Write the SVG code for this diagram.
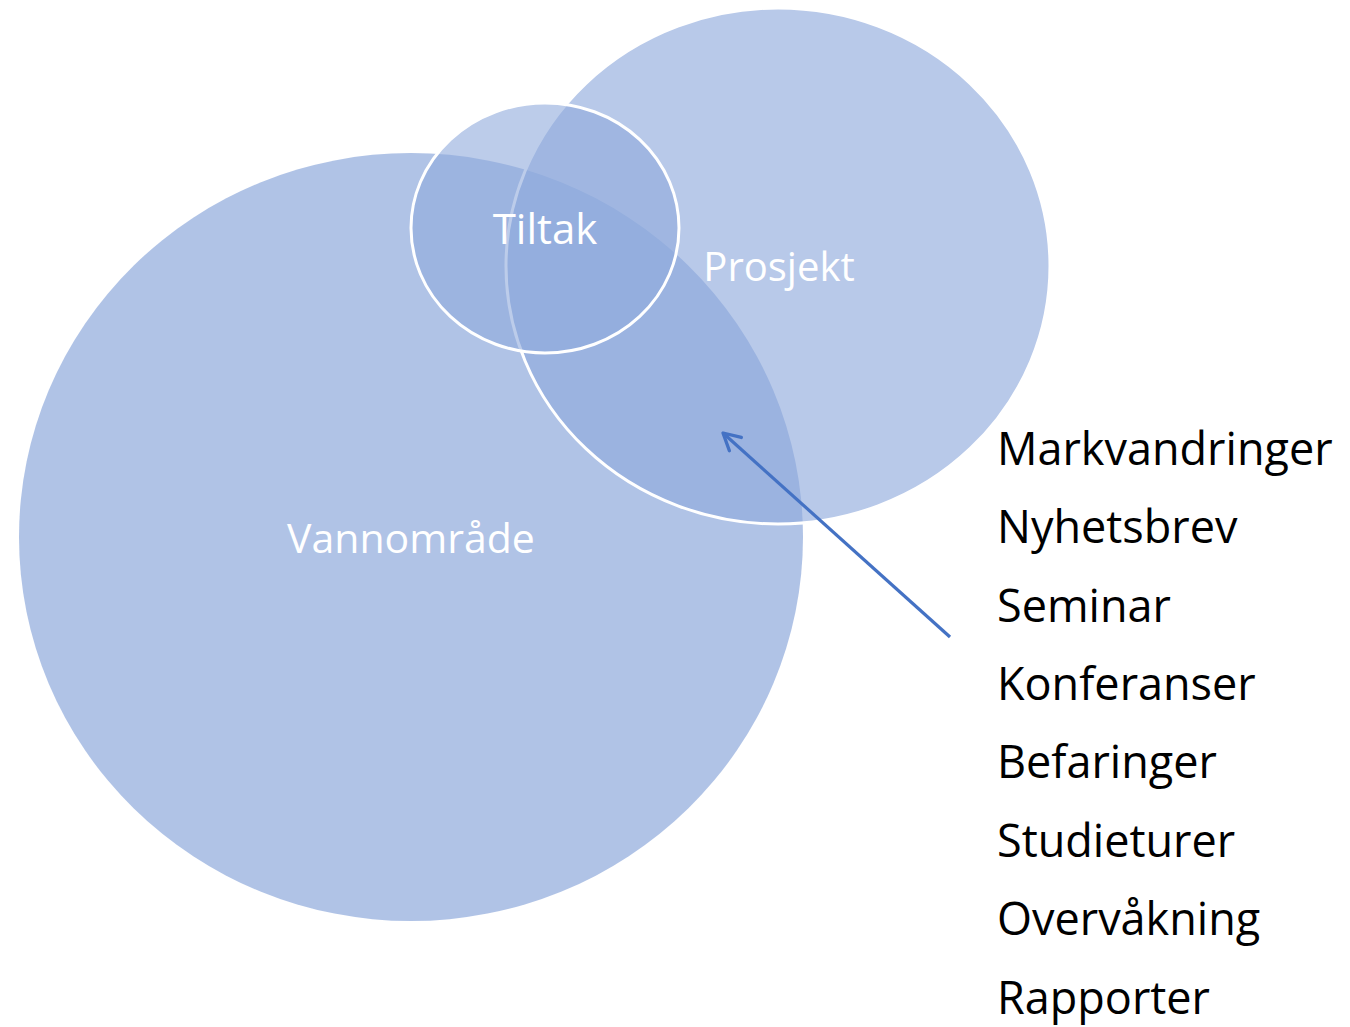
<svg xmlns="http://www.w3.org/2000/svg" width="1350" height="1027" viewBox="0 0 1350 1027">
<style>
.lbl{font-family:"Open Sans","Noto Sans","Liberation Sans",sans-serif;fill:#ffffff;text-anchor:middle}
.item{font-family:"Open Sans","Noto Sans","Liberation Sans",sans-serif;font-size:45px;fill:#000000}
</style>
<defs>
<marker id="ah" viewBox="0 0 20 20" refX="17" refY="10" markerWidth="8" markerHeight="8" markerUnits="strokeWidth" orient="auto">
<polyline points="4,3 17,10 4,17" fill="none" stroke="#4472c4" stroke-width="2.6" stroke-linecap="round" stroke-linejoin="round"/>
</marker>
</defs>
<g id="vannomrade">
<ellipse cx="411" cy="537" rx="392" ry="384" fill="#8faadc" fill-opacity="0.71"/>
<text class="lbl" x="411" y="553" font-size="41">Vannområde</text>
</g>
<g id="prosjekt">
<ellipse cx="778" cy="266" rx="272" ry="258" fill="#8faadc" fill-opacity="0.63" stroke="#ffffff" stroke-width="3"/>
<text class="lbl" x="779" y="281" font-size="40">Prosjekt</text>
</g>
<g id="tiltak">
<ellipse cx="545" cy="228" rx="134" ry="125" fill="#8faadc" fill-opacity="0.6" stroke="#ffffff" stroke-width="3"/>
<text class="lbl" x="545" y="244" font-size="42">Tiltak</text>
</g>
<g id="connectors">
<line x1="950" y1="637" x2="723" y2="433" stroke="#4472c4" stroke-width="3.2" marker-end="url(#ah)"/>
</g>
<g id="list">
<text class="item" x="997" y="465">Markvandringer</text>
<text class="item" x="997" y="543">Nyhetsbrev</text>
<text class="item" x="997" y="622">Seminar</text>
<text class="item" x="997" y="700">Konferanser</text>
<text class="item" x="997" y="778">Befaringer</text>
<text class="item" x="997" y="857">Studieturer</text>
<text class="item" x="997" y="935">Overvåkning</text>
<text class="item" x="997" y="1014">Rapporter</text>
</g>
</svg>
